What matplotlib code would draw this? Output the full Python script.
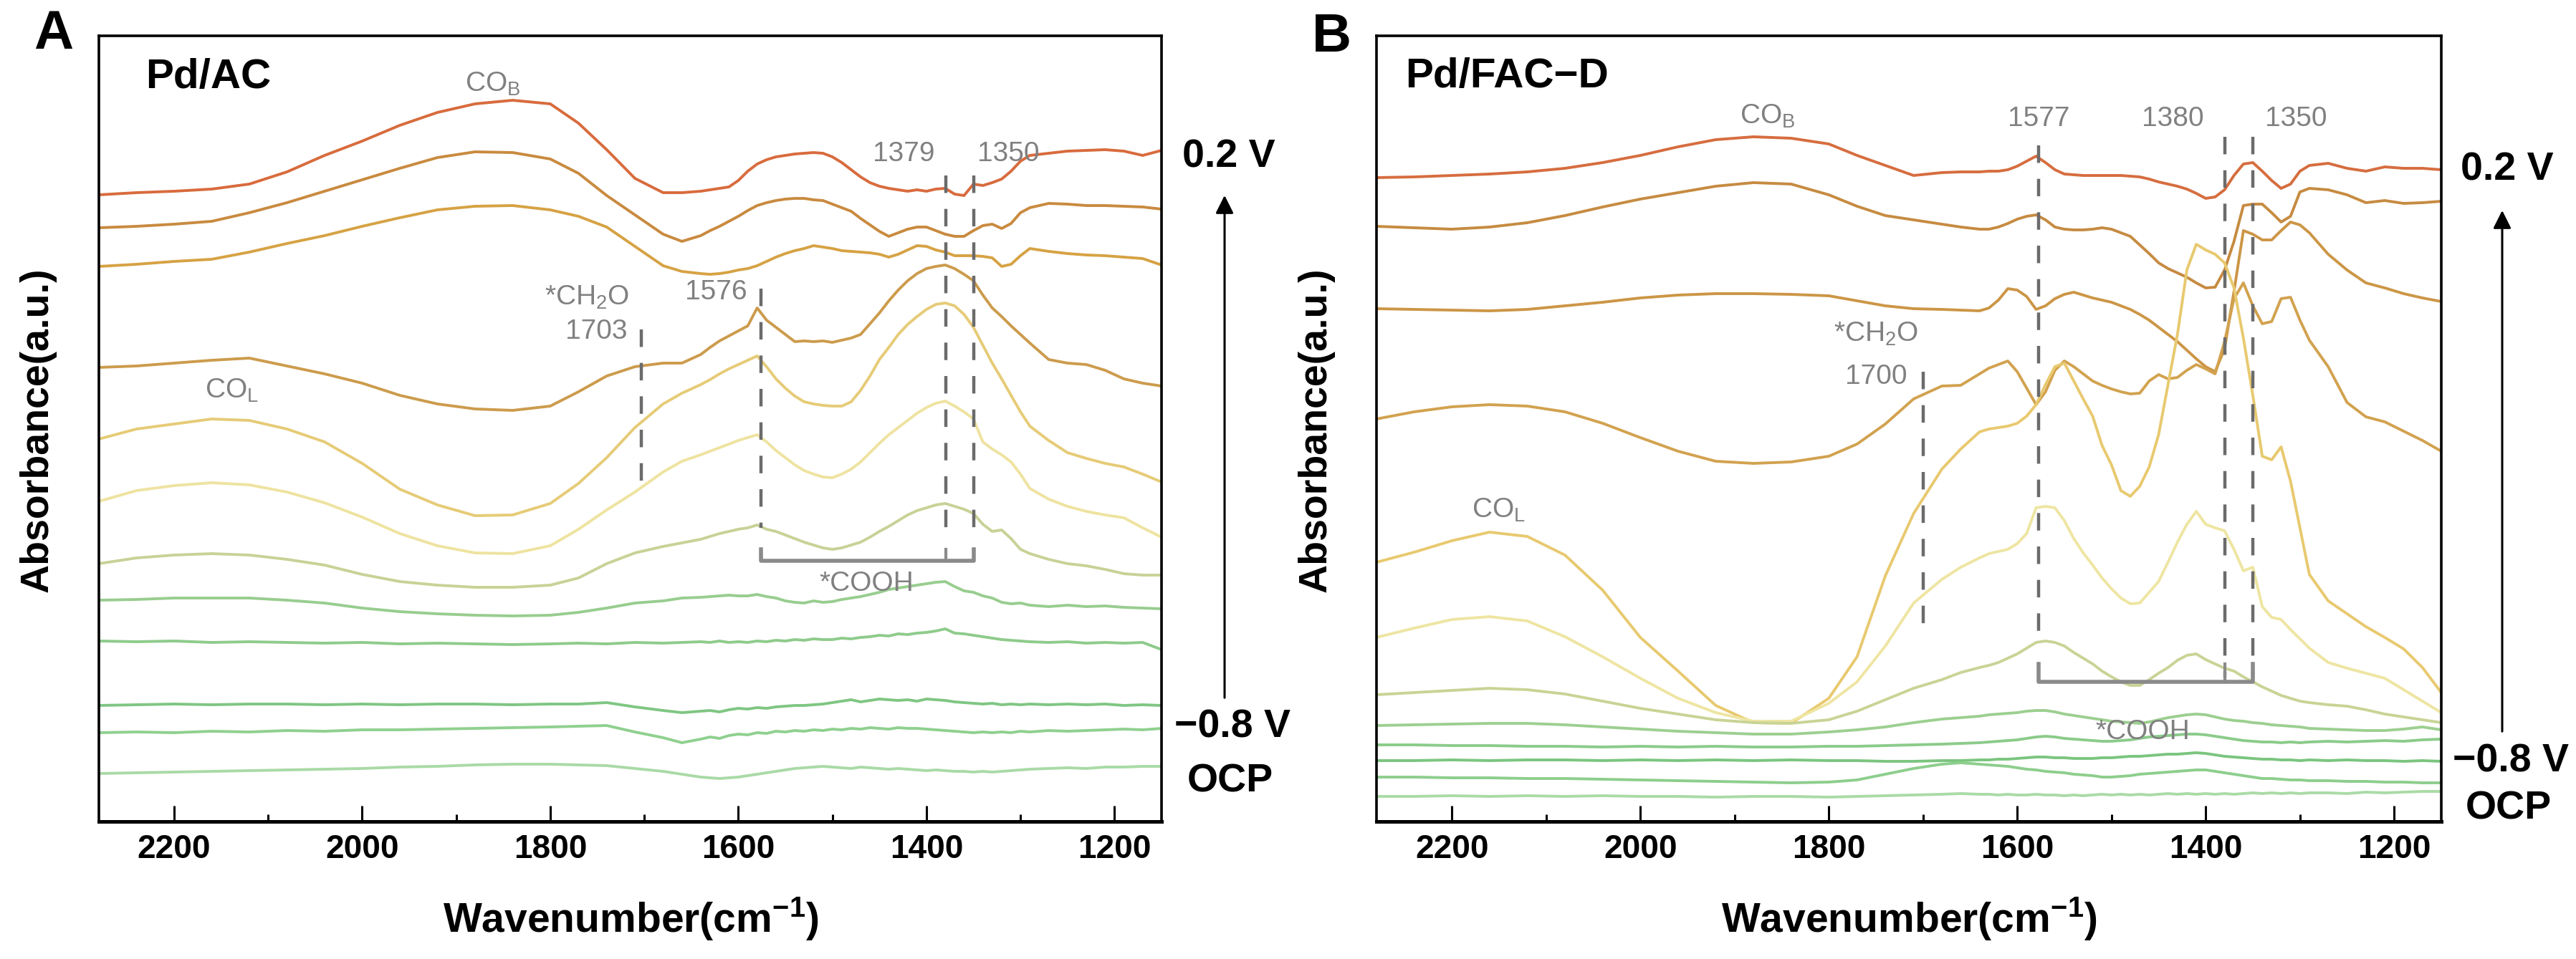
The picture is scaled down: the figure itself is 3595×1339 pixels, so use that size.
import matplotlib
matplotlib.use("Agg")
import matplotlib.pyplot as plt
from matplotlib.ticker import MultipleLocator

plt.rcParams['font.family'] = ['Liberation Sans', 'DejaVu Sans']
plt.rcParams['mathtext.fontset'] = 'custom'
plt.rcParams['mathtext.rm'] = 'Liberation Sans'
plt.rcParams['mathtext.bf'] = 'Liberation Sans:bold'

wavenumber = [2280, 2240, 2200, 2160, 2120, 2080, 2040, 2000, 1960, 1920, 1880, 1840, 1800,
              1770, 1740, 1710, 1680, 1660, 1640,
              1630, 1620, 1610, 1600, 1590, 1580, 1570, 1560, 1550, 1540,
              1530, 1520, 1510, 1500, 1490, 1480, 1470, 1460, 1450, 1440,
              1430, 1420, 1410, 1400, 1390, 1380, 1370, 1360, 1350, 1340,
              1330, 1320, 1310, 1300, 1290,
              1270, 1250, 1230, 1210, 1190, 1170, 1150]

# ---- Pd/AC, 0.2 V (top) ... OCP (bottom)
ac_p02 = [8.75, 8.78, 8.80, 8.83, 8.90, 9.07, 9.30, 9.50, 9.72, 9.90, 10.02, 10.07, 10.02,
          9.75, 9.38, 8.98, 8.78, 8.78, 8.80,
          8.82, 8.84, 8.86, 8.95, 9.08, 9.18, 9.24, 9.28, 9.30, 9.32,
          9.33, 9.34, 9.33, 9.28, 9.20, 9.10, 9.00, 8.92, 8.87, 8.84,
          8.82, 8.80, 8.82, 8.80, 8.83, 8.84, 8.76, 8.74, 8.90, 8.88,
          8.92, 8.97, 9.08, 9.22, 9.30,
          9.33, 9.36, 9.37, 9.38, 9.36, 9.30, 9.37]
ac_p01 = [8.29, 8.31, 8.34, 8.38, 8.50, 8.64, 8.80, 8.96, 9.12, 9.27, 9.35, 9.34, 9.25,
          9.05, 8.74, 8.47, 8.20, 8.10, 8.18,
          8.25, 8.31, 8.38, 8.45, 8.53, 8.60, 8.64, 8.67, 8.69, 8.70,
          8.70, 8.68, 8.67, 8.62, 8.57, 8.52, 8.42, 8.33, 8.24, 8.17,
          8.22, 8.27, 8.30, 8.30, 8.25, 8.20, 8.17, 8.17, 8.25, 8.32,
          8.34, 8.28, 8.35, 8.50, 8.57,
          8.63, 8.62, 8.60, 8.60, 8.59, 8.58, 8.55]
ac_0 = [7.75, 7.78, 7.82, 7.85, 7.95, 8.07, 8.18, 8.31, 8.43, 8.54, 8.59, 8.60, 8.54,
        8.45, 8.30, 8.03, 7.76, 7.68, 7.65,
        7.64, 7.65, 7.67, 7.70, 7.72, 7.76, 7.82, 7.88, 7.93, 7.97,
        8.00, 8.04, 8.02, 8.00, 7.97, 7.96, 7.95, 7.94, 7.92, 7.88,
        7.92, 7.98, 8.04, 8.03, 7.98, 7.95, 7.90, 7.90, 7.90, 7.89,
        7.87, 7.75, 7.78, 7.90, 8.00,
        7.96, 7.93, 7.91, 7.90, 7.88, 7.86, 7.77]
ac_m01 = [6.34, 6.36, 6.40, 6.44, 6.47, 6.36, 6.25, 6.12, 5.95, 5.83, 5.76, 5.74, 5.80,
          6.00, 6.22, 6.35, 6.40, 6.40, 6.52,
          6.62, 6.71, 6.78, 6.85, 6.92, 7.17, 7.00, 6.90, 6.80, 6.70,
          6.71, 6.70, 6.71, 6.69, 6.72, 6.75, 6.80, 6.95, 7.10, 7.27,
          7.42, 7.55, 7.65, 7.72, 7.75, 7.77, 7.72, 7.64, 7.55, 7.35,
          7.17, 7.05, 6.92, 6.80, 6.68,
          6.45, 6.40, 6.38, 6.30, 6.18, 6.12, 6.08]
ac_m02 = [5.34, 5.48, 5.55, 5.62, 5.60, 5.48, 5.30, 5.00, 4.64, 4.42, 4.27, 4.28, 4.44,
          4.72, 5.08, 5.50, 5.83, 5.98, 6.10,
          6.17, 6.25, 6.32, 6.38, 6.44, 6.50, 6.35, 6.18, 6.05, 5.94,
          5.86, 5.83, 5.81, 5.80, 5.80, 5.86, 6.02, 6.22, 6.45, 6.62,
          6.80, 6.94, 7.05, 7.15, 7.22, 7.24, 7.20, 7.08, 6.90, 6.65,
          6.40, 6.18, 5.95, 5.72, 5.52,
          5.32, 5.15, 5.07, 5.00, 4.95, 4.85, 4.74]
ac_m03 = [4.47, 4.62, 4.69, 4.73, 4.70, 4.60, 4.45, 4.25, 4.02, 3.85, 3.75, 3.74, 3.85,
          4.08, 4.35, 4.60, 4.88, 5.03, 5.12,
          5.17, 5.22, 5.27, 5.32, 5.36, 5.40, 5.30, 5.18, 5.08, 4.98,
          4.90, 4.85, 4.81, 4.80, 4.85, 4.92, 5.02, 5.15, 5.28, 5.40,
          5.50, 5.60, 5.70, 5.78, 5.84, 5.87, 5.80, 5.72, 5.62, 5.30,
          5.20, 5.12, 5.02, 4.85, 4.65,
          4.50, 4.40, 4.33, 4.28, 4.24, 4.10, 3.97]
ac_m04 = [3.60, 3.68, 3.72, 3.74, 3.72, 3.66, 3.58, 3.45, 3.35, 3.30, 3.27, 3.27, 3.30,
          3.40, 3.60, 3.75, 3.84, 3.89, 3.94,
          3.98, 4.02, 4.05, 4.08, 4.10, 4.14, 4.08, 4.05, 4.00, 3.95,
          3.90, 3.86, 3.82, 3.80, 3.82, 3.86, 3.90, 3.97, 4.05, 4.12,
          4.20, 4.28, 4.34, 4.38, 4.42, 4.44, 4.40, 4.36, 4.30, 4.15,
          4.05, 4.07, 3.95, 3.80, 3.74,
          3.66, 3.60, 3.57, 3.52, 3.46, 3.44, 3.44]
ac_m05 = [3.09, 3.10, 3.12, 3.12, 3.12, 3.09, 3.05, 2.98, 2.93, 2.90, 2.88, 2.87, 2.88,
          2.92, 2.98, 3.05, 3.08, 3.12, 3.13,
          3.14, 3.15, 3.16, 3.15, 3.15, 3.17, 3.14, 3.12, 3.08, 3.06,
          3.05, 3.08, 3.06, 3.07, 3.10, 3.12, 3.14, 3.17, 3.20, 3.24,
          3.26, 3.28, 3.30, 3.32, 3.34, 3.35, 3.28, 3.22, 3.20, 3.15,
          3.12, 3.06, 3.04, 3.05, 3.02,
          3.00, 3.02, 3.00, 3.01, 2.99, 2.98, 2.97]
ac_m06 = [2.52, 2.51, 2.52, 2.50, 2.51, 2.50, 2.49, 2.50, 2.48, 2.49, 2.48, 2.47, 2.48,
          2.49, 2.48, 2.50, 2.49, 2.50, 2.51,
          2.50, 2.52, 2.50, 2.51, 2.50, 2.52, 2.51, 2.53, 2.52, 2.54,
          2.53, 2.55, 2.54, 2.54, 2.56, 2.55, 2.57, 2.58, 2.60, 2.59,
          2.62, 2.61, 2.63, 2.64, 2.66, 2.69, 2.63, 2.62, 2.60, 2.58,
          2.56, 2.54, 2.53, 2.52, 2.51,
          2.50, 2.51, 2.49, 2.50, 2.49, 2.50, 2.40]
ac_m07 = [1.62, 1.63, 1.64, 1.63, 1.64, 1.64, 1.63, 1.64, 1.63, 1.64, 1.64, 1.63, 1.64,
          1.64, 1.66, 1.60, 1.55, 1.52, 1.54,
          1.55, 1.53, 1.56, 1.58, 1.57, 1.59, 1.58, 1.60, 1.61, 1.62,
          1.62, 1.63, 1.64, 1.66, 1.68, 1.70, 1.67, 1.69, 1.71, 1.70,
          1.69, 1.70, 1.68, 1.71, 1.70, 1.69, 1.67, 1.66, 1.65, 1.64,
          1.65, 1.63, 1.64, 1.63, 1.64,
          1.63, 1.64, 1.63, 1.64, 1.62, 1.63, 1.62]
ac_m08 = [1.24, 1.25, 1.24, 1.26, 1.25, 1.27, 1.26, 1.28, 1.28, 1.29, 1.30, 1.31, 1.32,
          1.33, 1.34, 1.25, 1.17, 1.10, 1.15,
          1.18, 1.16, 1.20, 1.22, 1.21, 1.24, 1.23, 1.26, 1.25, 1.27,
          1.26, 1.28, 1.27, 1.29, 1.28, 1.30, 1.29, 1.31, 1.30, 1.29,
          1.31, 1.30, 1.30, 1.29, 1.28, 1.27, 1.26, 1.25, 1.24, 1.25,
          1.24, 1.25, 1.24, 1.26, 1.25,
          1.27, 1.26, 1.27, 1.28, 1.29, 1.28, 1.30]
ac_ocp = [0.67, 0.68, 0.69, 0.70, 0.71, 0.72, 0.73, 0.74, 0.76, 0.77, 0.79, 0.80, 0.80,
          0.79, 0.78, 0.74, 0.70, 0.66, 0.62,
          0.61, 0.60, 0.61, 0.62, 0.64, 0.66, 0.68, 0.70, 0.72, 0.74,
          0.75, 0.76, 0.77, 0.76, 0.75, 0.74, 0.76, 0.75, 0.74, 0.73,
          0.74, 0.73, 0.72, 0.71, 0.72, 0.71, 0.70, 0.70, 0.69, 0.70,
          0.69, 0.70, 0.71, 0.72, 0.73,
          0.74, 0.75, 0.74, 0.76, 0.76, 0.77, 0.77]

# ---- Pd/FAC-D, 0.2 V (top) ... OCP (bottom)
fac_p02 = [8.99, 9.00, 9.02, 9.04, 9.07, 9.12, 9.20, 9.30, 9.42, 9.52, 9.56, 9.54, 9.46,
           9.30, 9.16, 9.02, 9.06, 9.07, 9.07,
           9.08, 9.08, 9.10, 9.15, 9.22, 9.29, 9.20, 9.10, 9.04, 9.03,
           9.02, 9.02, 9.02, 9.02, 9.02, 9.01, 9.00, 8.97, 8.93, 8.90,
           8.87, 8.83, 8.77, 8.70, 8.72, 8.82, 9.02, 9.18, 9.20, 9.08,
           8.95, 8.84, 8.90, 9.08, 9.16,
           9.19, 9.12, 9.08, 9.14, 9.12, 9.12, 9.10]
fac_p01 = [8.31, 8.29, 8.27, 8.30, 8.36, 8.46, 8.58, 8.69, 8.78, 8.87, 8.92, 8.90, 8.75,
           8.59, 8.46, 8.40, 8.34, 8.30, 8.27,
           8.27, 8.30, 8.35, 8.41, 8.45, 8.47, 8.40, 8.30, 8.27, 8.26,
           8.26, 8.27, 8.29, 8.27, 8.22, 8.17, 8.05, 7.93, 7.80, 7.72,
           7.66, 7.60, 7.52, 7.45, 7.46, 7.70, 8.10, 8.60, 8.62, 8.62,
           8.50, 8.37, 8.45, 8.79, 8.84,
           8.82, 8.75, 8.64, 8.67, 8.63, 8.64, 8.66]
fac_0 = [7.16, 7.15, 7.14, 7.13, 7.15, 7.20, 7.25, 7.31, 7.35, 7.37, 7.37, 7.36, 7.34,
         7.27, 7.20, 7.16, 7.15, 7.14, 7.13,
         7.17, 7.28, 7.44, 7.42, 7.33, 7.15, 7.20, 7.30, 7.36, 7.39,
         7.35, 7.31, 7.28, 7.25, 7.20, 7.15, 7.08, 7.00, 6.90, 6.80,
         6.70, 6.58, 6.46, 6.35, 6.28, 6.60, 7.40, 8.25, 8.20, 8.12,
         8.12, 8.25, 8.37, 8.33, 8.22,
         7.92, 7.70, 7.52, 7.45, 7.37, 7.31, 7.26]
fac_m01 = [5.62, 5.72, 5.79, 5.82, 5.80, 5.72, 5.56, 5.36, 5.17, 5.03, 5.00, 5.02, 5.10,
           5.27, 5.55, 5.90, 6.08, 6.09, 6.25,
           6.33, 6.38, 6.43, 6.28, 6.05, 5.82, 6.00, 6.30, 6.43, 6.35,
           6.25, 6.15, 6.09, 6.04, 6.00, 5.97, 5.98, 6.15, 6.24, 6.18,
           6.20, 6.30, 6.38, 6.32, 6.25, 6.70, 7.30, 7.52, 7.20, 6.95,
           6.98, 7.30, 7.32, 7.00, 6.72,
           6.35, 5.85, 5.65, 5.58, 5.45, 5.32, 5.17]
fac_m02 = [3.62, 3.76, 3.92, 4.04, 3.98, 3.72, 3.23, 2.57, 2.10, 1.62, 1.38, 1.37, 1.72,
           2.30, 3.43, 4.30, 4.92, 5.20, 5.44,
           5.48, 5.50, 5.52, 5.56, 5.66, 5.82, 6.10, 6.35, 6.40, 6.15,
           5.90, 5.66, 5.25, 4.98, 4.62, 4.54, 4.68, 4.95, 5.40, 6.10,
           6.80, 7.70, 8.06, 7.98, 7.92, 7.80, 7.45, 6.75, 5.95, 5.10,
           5.05, 5.23, 4.75, 4.10, 3.45,
           3.08, 2.90, 2.72, 2.57, 2.41, 2.15, 1.80]
fac_m03 = [2.57, 2.70, 2.82, 2.86, 2.80, 2.58, 2.30, 2.00, 1.72, 1.52, 1.40, 1.40, 1.65,
           1.95, 2.45, 3.05, 3.38, 3.55, 3.68,
           3.74, 3.77, 3.80, 3.88, 4.02, 4.38, 4.40, 4.38, 4.20, 3.95,
           3.75, 3.58, 3.40, 3.25, 3.12, 3.04, 3.05, 3.20, 3.35, 3.62,
           3.90, 4.15, 4.33, 4.15, 4.10, 4.06, 3.80, 3.50, 3.55, 3.00,
           2.85, 2.82, 2.68, 2.55, 2.42,
           2.22, 2.14, 2.07, 2.00, 1.84, 1.68, 1.52]
fac_m04 = [1.77, 1.80, 1.83, 1.86, 1.84, 1.78, 1.68, 1.58, 1.50, 1.42, 1.38, 1.37, 1.42,
           1.54, 1.70, 1.86, 1.98, 2.08, 2.15,
           2.18, 2.22, 2.28, 2.34, 2.42, 2.50, 2.52, 2.50, 2.45, 2.36,
           2.28, 2.20, 2.10, 2.02, 1.95, 1.90, 1.90, 1.98, 2.07, 2.15,
           2.25, 2.32, 2.34, 2.26, 2.20, 2.14, 2.10, 2.02, 1.95, 1.88,
           1.82, 1.76, 1.72, 1.68, 1.66,
           1.63, 1.61, 1.56, 1.50, 1.46, 1.42, 1.38]
fac_m05 = [1.34, 1.35, 1.36, 1.37, 1.37, 1.35, 1.32, 1.29, 1.26, 1.24, 1.22, 1.22, 1.25,
           1.28, 1.32, 1.38, 1.43, 1.45, 1.47,
           1.49, 1.50, 1.51, 1.52, 1.54, 1.55, 1.55, 1.53, 1.50, 1.48,
           1.46, 1.44, 1.42, 1.40, 1.39, 1.38, 1.37, 1.39, 1.42, 1.45,
           1.47, 1.49, 1.50, 1.49, 1.46, 1.43, 1.41, 1.40, 1.38, 1.37,
           1.35, 1.34, 1.33, 1.32, 1.30,
           1.29, 1.28, 1.27, 1.27, 1.29, 1.32, 1.28]
fac_m06 = [1.07, 1.07, 1.06, 1.06, 1.05, 1.05, 1.04, 1.05, 1.04, 1.05, 1.04, 1.04, 1.05,
           1.05, 1.06, 1.07, 1.08, 1.09, 1.10,
           1.11, 1.12, 1.13, 1.14, 1.16, 1.18, 1.19, 1.18, 1.16, 1.15,
           1.14, 1.13, 1.12, 1.12, 1.13, 1.14, 1.16, 1.18, 1.19, 1.20,
           1.21, 1.22, 1.22, 1.21, 1.19, 1.17, 1.15, 1.13, 1.12, 1.11,
           1.11, 1.10, 1.11, 1.10, 1.11,
           1.12, 1.11, 1.12, 1.13, 1.12, 1.14, 1.15]
fac_m07 = [0.85, 0.85, 0.86, 0.85, 0.86, 0.86, 0.85, 0.86, 0.85, 0.86, 0.85, 0.86, 0.85,
           0.85, 0.84, 0.84, 0.85, 0.85, 0.86,
           0.86, 0.87, 0.87, 0.88, 0.89, 0.90, 0.90, 0.89, 0.89, 0.88,
           0.88, 0.88, 0.89, 0.89, 0.90, 0.91, 0.91, 0.92, 0.93, 0.94,
           0.94, 0.95, 0.96, 0.95, 0.93, 0.91, 0.90, 0.89, 0.88, 0.87,
           0.87, 0.86, 0.86, 0.85, 0.86,
           0.85, 0.86, 0.85, 0.85, 0.84, 0.85, 0.84]
fac_m08 = [0.62, 0.62, 0.61, 0.61, 0.60, 0.60, 0.59, 0.58, 0.57, 0.56, 0.55, 0.54, 0.55,
           0.58, 0.66, 0.74, 0.80, 0.82, 0.80,
           0.79, 0.78, 0.77, 0.75, 0.73, 0.72, 0.70, 0.69, 0.68, 0.66,
           0.65, 0.64, 0.62, 0.62, 0.63, 0.64, 0.66, 0.67, 0.68, 0.69,
           0.70, 0.71, 0.72, 0.72, 0.70, 0.68, 0.66, 0.64, 0.62, 0.60,
           0.60, 0.59, 0.58, 0.58, 0.57,
           0.57, 0.56, 0.56, 0.55, 0.55, 0.54, 0.54]
fac_ocp = [0.35, 0.35, 0.36, 0.35, 0.36, 0.35, 0.36, 0.35, 0.35, 0.34, 0.35, 0.35, 0.34,
           0.35, 0.36, 0.37, 0.38, 0.39, 0.38,
           0.38, 0.37, 0.38, 0.37, 0.37, 0.38, 0.37, 0.37, 0.36, 0.37,
           0.36, 0.37, 0.38, 0.37, 0.38, 0.37, 0.38, 0.37, 0.38, 0.39,
           0.38, 0.39, 0.38, 0.39, 0.38, 0.39, 0.38, 0.39, 0.40, 0.39,
           0.40, 0.39, 0.40, 0.39, 0.40,
           0.40, 0.39, 0.41, 0.40, 0.41, 0.42, 0.42]

ac_spectra = [ac_p02, ac_p01, ac_0, ac_m01, ac_m02, ac_m03, ac_m04, ac_m05, ac_m06, ac_m07, ac_m08, ac_ocp]
fac_spectra = [fac_p02, fac_p01, fac_0, fac_m01, fac_m02, fac_m03, fac_m04, fac_m05, fac_m06, fac_m07,
               fac_m08, fac_ocp]
ac_colors = ['#D86B3D', '#C98A3F', '#D6A244', '#CC9B4C', '#E6CB77', '#EEE3A0',
             '#C7D296', '#98CD8F', '#8ECB8B', '#7FC683', '#8FD08F', '#A9DAA6']
fac_colors = ['#D66D3F', '#C68B41', '#CC9646', '#D2A24F', '#E8C96F', '#EEE5A2',
              '#C8D495', '#9CCF90', '#8BCB8A', '#7BC57F', '#8DCE8D', '#AADBA6']

for s in ac_spectra + fac_spectra:
    assert len(s) == len(wavenumber)

W, H = 3595, 1339
fig = plt.figure(figsize=(W / 100, H / 100), dpi=100)


def fx(x):
    return x / W


def fy(y):
    return 1 - y / H


ax_a = fig.add_axes([fx(138), fy(1147), fx(1621) - fx(138), fy(50) - fy(1147)])
ax_b = fig.add_axes([fx(1921), fy(1147), fx(3407) - fx(1921), fy(50) - fy(1147)])

GRAY = '#808080'
DASH = '#6b6b6b'


def draw_panel(ax, spectra, colors):
    for s, c in zip(spectra, colors):
        ax.plot(wavenumber, s, color=c, lw=2.8, solid_joinstyle='round')
    ax.set_xlim(2280, 1150)
    ax.set_ylim(0, 10.97)
    ax.set_xticks([2200, 2000, 1800, 1600, 1400, 1200])
    ax.xaxis.set_minor_locator(MultipleLocator(100))
    ax.set_yticks([])
    ax.tick_params(axis='x', which='major', direction='in', length=16, width=2.2,
                   labelsize=33, pad=12)
    ax.tick_params(axis='x', which='minor', direction='in', length=7, width=2.2)
    for lab in ax.get_xticklabels():
        lab.set_fontweight('bold')
    for sp in ax.spines.values():
        sp.set_linewidth(2.6)
    ax.spines['bottom'].set_linewidth(3.6)


def vdash(ax, wn, y0, y1):
    ax.plot([wn, wn], [y0, y1], color=DASH, lw=3.2, ls=(0, (5.5, 5)))


def bracket(ax, wns, ytop, ybot):
    ax.plot([wns[0], wns[0], wns[-1], wns[-1]], [ytop, ybot, ybot, ytop], color='#8a8a8a', lw=4)
    for w in wns[1:-1]:
        ax.plot([w, w], [ytop, ybot], color='#8a8a8a', lw=3)


def note(ax, wn, y, s, ha='center'):
    ax.text(wn, y, s, color=GRAY, fontsize=28, ha=ha, va='center')


draw_panel(ax_a, ac_spectra, ac_colors)
draw_panel(ax_b, fac_spectra, fac_colors)

# Pd/AC annotations
note(ax_a, 1861, 10.30, r'CO$_{\mathregular{B}}$')
note(ax_a, 2139, 6.02, r'CO$_{\mathregular{L}}$')
note(ax_a, 1761, 7.32, r'*CH$_{\mathregular{2}}$O')
note(ax_a, 1751, 6.84, '1703')
note(ax_a, 1624, 7.39, '1576')
note(ax_a, 1424, 9.32, '1379')
note(ax_a, 1313, 9.32, '1350')
note(ax_a, 1464, 3.32, '*COOH')
vdash(ax_a, 1703, 6.87, 4.54)
vdash(ax_a, 1576, 7.44, 4.10)
vdash(ax_a, 1379, 9.02, 4.07)
vdash(ax_a, 1350, 9.02, 4.07)
bracket(ax_a, [1576, 1379, 1350], 3.80, 3.64)

# Pd/FAC-D annotations
note(ax_b, 1865, 9.85, r'CO$_{\mathregular{B}}$')
note(ax_b, 2150, 4.35, r'CO$_{\mathregular{L}}$')
note(ax_b, 1750, 6.81, r'*CH$_{\mathregular{2}}$O')
note(ax_b, 1750, 6.21, '1700')
note(ax_b, 1577, 9.81, '1577')
note(ax_b, 1435, 9.81, '1380')
note(ax_b, 1304, 9.81, '1350')
note(ax_b, 1467, 1.25, '*COOH')
vdash(ax_b, 1700, 6.28, 2.57)
vdash(ax_b, 1577, 9.44, 2.45)
vdash(ax_b, 1380, 9.56, 2.01)
vdash(ax_b, 1350, 9.56, 2.01)
bracket(ax_b, [1577, 1380, 1350], 2.20, 1.95)

# panel letters, sample names, axis labels
fig.text(fx(75), fy(48), 'A', fontsize=55, fontweight='bold', ha='center', va='center')
fig.text(fx(1858), fy(52), 'B', fontsize=55, fontweight='bold', ha='center', va='center')
fig.text(fx(203), fy(108), 'Pd/AC', fontsize=42, fontweight='bold', ha='left', va='center')
fig.text(fx(1961), fy(107), 'Pd/FAC\u2212D', fontsize=42, fontweight='bold', ha='left', va='center')
for xc in (53, 1837):
    fig.text(fx(xc), fy(600), 'Absorbance(a.u.)', fontsize=40, fontweight='bold',
             rotation=90, ha='center', va='center')
for xc in (880, 2664):
    fig.text(fx(xc), fy(1283), r'Wavenumber(cm$^{\mathregular{-1}}$)', fontsize=41,
             fontweight='bold', ha='center', va='center')

# potential labels and arrows
for xc, y02, y08, yocp, xarr, ytop, ybot in [(1715, 220, 1015, 1092, 1709, 270, 977),
                                           (3499, 237, 1064, 1130, 3492, 291, 1024)]:
    fig.text(fx(xc), fy(y02), '0.2 V', fontsize=40, fontweight='bold', ha='center', va='center')
    fig.text(fx(xc + 5), fy(y08), '\u22120.8 V', fontsize=40, fontweight='bold', ha='center', va='center')
    fig.text(fx(xc + 2), fy(yocp), 'OCP', fontsize=40, fontweight='bold', ha='center', va='center')
    ax_a.annotate('', xy=(fx(xarr), fy(ytop)), xytext=(fx(xarr), fy(ybot)),
                  xycoords='figure fraction', textcoords='figure fraction',
                  arrowprops=dict(arrowstyle='-|>', color='black', lw=2.2, mutation_scale=38),
                  annotation_clip=False)

fig.savefig('out.png', dpi=100, facecolor='white')
